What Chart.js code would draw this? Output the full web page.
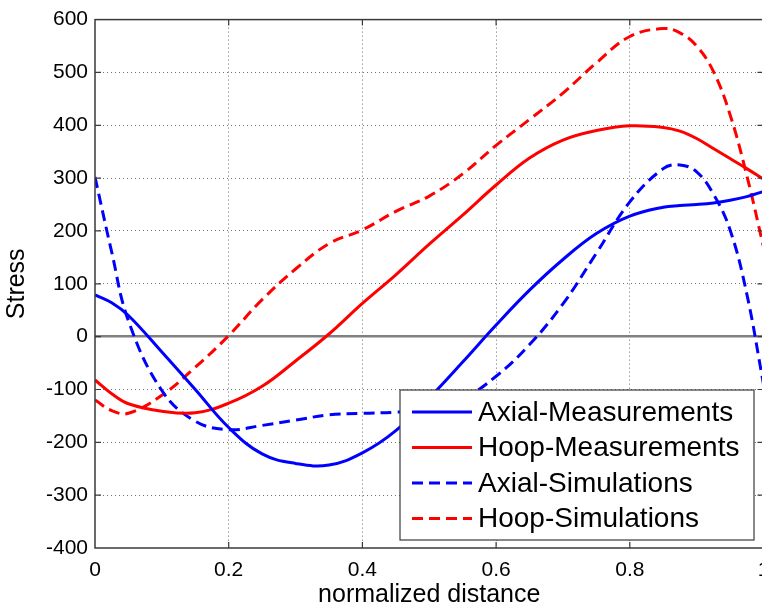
<!DOCTYPE html>
<html>
<head>
<meta charset="utf-8">
<script src="https://cdn.jsdelivr.net/npm/chart.js@4/dist/chart.umd.min.js"></script>
<style>
  html, body { margin: 0; padding: 0; background: #fff; overflow: hidden; }
  #wrap { width: 790px; height: 606px; }
</style>
</head>
<body>
<div id="wrap"><canvas id="stressChart" width="790" height="606"></canvas></div>
<script>
// normalized distance along the part
const distance = [0, 0.025, 0.05, 0.1, 0.15, 0.2, 0.25, 0.3, 0.35, 0.4, 0.45, 0.5, 0.55,
    0.6, 0.65, 0.7, 0.75, 0.8, 0.85, 0.875, 0.9, 0.925, 0.95, 0.975, 1];

// stress values per series
const axialMeasured = [79, 64, 40, -29, -100, -172, -222, -240, -243, -220, -178, -116, -48,
    22, 88, 146, 195, 228, 245, 248, 250, 253, 258, 265, 275];
const hoopMeasured = [-82, -108, -127, -141, -144, -126, -94, -46, 5, 63, 117, 175, 230,
    287, 338, 372, 390, 399, 396, 389, 375, 356, 337, 318, 298];
const axialSimulated = [302, 160, 30, -102, -160, -176, -168, -158, -148, -145, -143, -138, -118,
    -75, -15, 62, 158, 255, 318, 325, 312, 270, 202, 81, -90];
const hoopSimulated = [-120, -140, -145, -111, -58, 2, 70, 128, 176, 202, 237, 266, 308,
    362, 411, 461, 518, 568, 583, 575, 550, 502, 420, 305, 170];

const seriesNames = ['Axial-Measurements', 'Hoop-Measurements', 'Axial-Simulations', 'Hoop-Simulations'];
const xTicks = [0, 0.2, 0.4, 0.6, 0.8, 1];
const yTicks = [-400, -300, -200, -100, 0, 100, 200, 300, 400, 500, 600];

const BLUE = '#0000ff';
const RED = '#ff0000';
const DASH = [11, 6];

function toPoints(values) {
    return values.map((v, i) => ({ x: distance[i], y: v }));
}

function makeSet(label, values, color, dash) {
    return {
        label: label,
        data: toPoints(values),
        borderColor: color,
        backgroundColor: color,
        borderWidth: 3,
        borderDash: dash,
        pointRadius: 0,
        tension: 0.4,
        fill: false
    };
}

// box around the axes with inward tick marks, like a MATLAB figure
const axesBox = {
    id: 'axesBox',
    afterDatasetsDraw(chart) {
        const ctx = chart.ctx;
        const a = chart.chartArea;
        const xs = chart.scales.x;
        const ys = chart.scales.y;
        const len = 6;
        ctx.save();
        ctx.strokeStyle = '#3a3a3a';
        ctx.lineWidth = 1.5;
        ctx.strokeRect(a.left, a.top, a.right - a.left, a.bottom - a.top);
        ctx.lineWidth = 1.2;
        ctx.beginPath();
        xTicks.slice(1, -1).forEach(t => {
            const px = xs.getPixelForValue(t);
            ctx.moveTo(px, a.bottom); ctx.lineTo(px, a.bottom - len);
            ctx.moveTo(px, a.top); ctx.lineTo(px, a.top + len);
        });
        yTicks.slice(1, -1).forEach(t => {
            const py = ys.getPixelForValue(t);
            ctx.moveTo(a.left, py); ctx.lineTo(a.left + len, py);
            ctx.moveTo(a.right, py); ctx.lineTo(a.right - len, py);
        });
        ctx.stroke();
        ctx.restore();
    },
    afterDraw(chart) {
        // legend box in the lower right corner of the axes
        const ctx = chart.ctx;
        const a = chart.chartArea;
        const w = 354, h = 150;
        const left = a.right - 9.5 - w;
        const top = a.bottom - 8 - h;
        ctx.save();
        ctx.fillStyle = '#fff';
        ctx.fillRect(left, top, w, h);
        ctx.strokeStyle = '#3a3a3a';
        ctx.lineWidth = 1.2;
        ctx.strokeRect(left, top, w, h);
        ctx.font = '28px "Liberation Sans", Arial, sans-serif';
        ctx.textBaseline = 'middle';
        ctx.textAlign = 'left';
        chart.data.datasets.forEach((ds, i) => {
            const y = top + 22 + i * 35.5;
            ctx.strokeStyle = ds.borderColor;
            ctx.lineWidth = 3;
            ctx.setLineDash(ds.borderDash || []);
            ctx.beginPath();
            ctx.moveTo(left + 12, y);
            ctx.lineTo(left + 72, y);
            ctx.stroke();
            ctx.setLineDash([]);
            ctx.fillStyle = '#000';
            ctx.fillText(ds.label, left + 78, y + 1);
        });
        ctx.restore();
    }
};

const tickFont = { family: '"Liberation Sans", Arial, sans-serif', size: 21 };

new Chart(document.getElementById('stressChart'), {
    type: 'line',
    data: {
        datasets: [
            makeSet(seriesNames[0], axialMeasured, BLUE, []),
            makeSet(seriesNames[1], hoopMeasured, RED, []),
            makeSet(seriesNames[2], axialSimulated, BLUE, DASH),
            makeSet(seriesNames[3], hoopSimulated, RED, DASH)
        ]
    },
    options: {
        responsive: false,
        devicePixelRatio: 1,
        animation: false,
        layout: { padding: { top: 19, right: 26.5, bottom: 0, left: 0 } },
        plugins: {
            legend: { display: false },
            tooltip: { enabled: false }
        },
        scales: {
            x: {
                type: 'linear',
                min: 0,
                max: 1,
                afterBuildTicks: scale => { scale.ticks = xTicks.map(v => ({ value: v })); },
                afterFit: scale => { scale.height = 58; },
                ticks: {
                    color: '#000',
                    font: tickFont,
                    padding: 10,
                    maxRotation: 0,
                    autoSkip: false,
                    callback: v => String(v)
                },
                grid: {
                    drawTicks: false,
                    color: ctx => (ctx.tick && (ctx.tick.value === 0 || ctx.tick.value === 1)) ? 'rgba(0,0,0,0)' : 'rgba(0,0,0,0.6)',
                    lineWidth: 1
                },
                border: { display: false, dash: [1, 3] },
                title: {
                    display: true,
                    text: 'normalized distance',
                    color: '#000',
                    font: { family: '"Liberation Sans", Arial, sans-serif', size: 25, lineHeight: 0.88 },
                    padding: { top: 0, bottom: 0 }
                }
            },
            y: {
                min: -400,
                max: 600,
                afterBuildTicks: scale => { scale.ticks = yTicks.map(v => ({ value: v })); },
                afterFit: scale => { scale.width = 95; },
                ticks: {
                    color: '#000',
                    font: tickFont,
                    padding: 7,
                    autoSkip: false
                },
                grid: {
                    drawTicks: false,
                    // the zero line is solid grey, others are dotted
                    color: ctx => {
                        const v = ctx.tick ? ctx.tick.value : null;
                        if (v === 0) return '#808080';
                        if (v === 600 || v === -400) return 'rgba(0,0,0,0)';
                        return 'rgba(0,0,0,0.55)';
                    },
                    lineWidth: ctx => (ctx.tick && ctx.tick.value === 0) ? 2.5 : 1
                },
                border: {
                    display: false,
                    dash: ctx => (ctx.tick && ctx.tick.value === 0) ? [] : [1, 3]
                },
                title: {
                    display: true,
                    text: 'Stress',
                    color: '#000',
                    font: { family: '"Liberation Sans", Arial, sans-serif', size: 25, lineHeight: 1.38 },
                    padding: { top: 0, bottom: 0 }
                }
            }
        }
    },
    plugins: [axesBox]
});
</script>
</body>
</html>
